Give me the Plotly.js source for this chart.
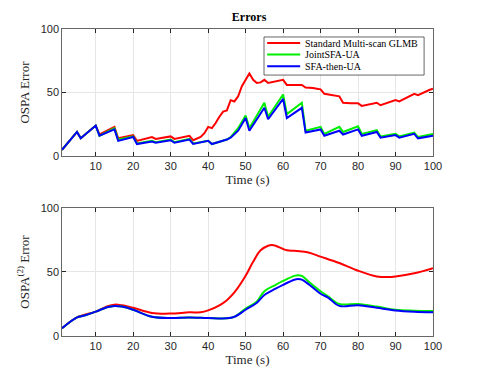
<!DOCTYPE html>
<html>
<head>
<meta charset="utf-8">
<script src="https://cdn.plot.ly/plotly-3.0.1.min.js"></script>
<style>body{margin:0;background:#fff}#plot{width:479px;height:379px}</style>
</head>
<body>
<div id="plot"></div>
<script>
// top panel: OSPA error (vertices)
const tRedTop = [1,5,6,10,11,15,16,20,21,25,26,30,31,35,36,37,38,39,40,41,42,43,44,45,46,47,48,49,50,
  51,52,53,54,55,56,57,58,59,60,61,62,63,64,65,66,67,68,69,70,71,72,73,74,75,76,77,78,79,80,
  81,82,83,84,85,86,87,88,89,90,91,92,93,94,95,96,97,98,99,100];
const redTop = [5,19,14,24,17,23,14,16.5,12,15,13.5,15.5,13.5,16,12.5,13.5,15,18,23,22,26,31,35,36,44,43,47,55,60,
  65,60,57.5,58,60,57.5,58,59,59.5,60,56,56,56,56,56,54,54,53.5,53,52.5,49,48.5,48,47.5,47,42,41.5,41.5,41.5,41.5,
  39.5,40,40.5,41,42,40,41,42,43,44,43,44.5,46,47.5,49,48,49.5,50.5,52,53];
const tTop = [1,5,6,10,11,15,16,20,21,25,26,30,31,35,36,40,41,45,46,48,50,51,55,56,60,61,65,66,70,71,75,76,80,81,85,86,90,91,95,96,100];
const greenTop = [5,19,14,24,16,22,13,15.5,10,12,11,13,11,13.5,10,12,9.5,13,15,22,32,22,42,31,48.5,33,42,20,23,17.5,23,19,23.5,17.5,20.5,15.5,17.5,15.5,18.5,15,17.5];
const blueTop  = [5,19,14,24,16,21,12,15,9.5,11.5,10.5,12.5,10.5,13,9.5,12,9.5,13,14.5,20,30,20,38,29,45,30,38,18.5,21,16,20,17,21,16,19,14.5,16.5,14.5,17.5,14,16];

// bottom panel: OSPA(2) error
const tRedBot = [1,5,10,13,15,17,20,25,30,35,38,40,43,45,47,50,52,54,56,57,58,60,61,63,65,67,70,75,80,85,88,90,95,100];
const redBot  = [6,14.5,19,23,24.5,24,22,18,17.5,18.5,18.5,20,24,28,34,47,58,67,70.5,71,70.5,68,67,66.5,66,65,62,57,51,46.5,46,46.5,49,53];
const tBot = [1,5,7,10,13,15,17,20,25,30,35,40,45,47,50,53,55,58,60,63,64,65,67,70,72,75,80,85,90,95,100];
const greenBot = [6,14.5,16,19,22.5,23.5,23,20.5,15,14,14.5,14,13.8,15,21.5,27,35,40,43,47,47.5,47,42,35,31,25,25,23,20.5,19.8,19.5];
const blueBot  = [6,14.5,16,19,22.5,23.5,23,20.5,15,14,14.5,14,13.8,15,20.5,26,32,37,40,44,44.5,44,40,33,30,23.5,24,22,20,19,18.5];

const names = ['Standard Multi-scan GLMB', 'JointSFA-UA', 'SFA-then-UA'];
const colors = ['#ff0000', '#00ee00', '#0000ff'];

const traces = [
  {x: tRedTop, y: redTop, line: {color: colors[0], width: 2}},
  {x: tTop, y: greenTop, line: {color: colors[1], width: 2}},
  {x: tTop, y: blueTop, line: {color: colors[2], width: 2}},
  {x: tRedBot, y: redBot, xaxis: 'x2', yaxis: 'y2', line: {color: colors[0], width: 2, shape: 'spline'}},
  {x: tBot, y: greenBot, xaxis: 'x2', yaxis: 'y2', line: {color: colors[1], width: 2, shape: 'spline'}},
  {x: tBot, y: blueBot, xaxis: 'x2', yaxis: 'y2', line: {color: colors[2], width: 2, shape: 'spline'}}
].map(t => Object.assign({mode: 'lines', type: 'scatter', showlegend: false, hoverinfo: 'skip'}, t));

const serif = 'Liberation Serif, Times New Roman, serif';
const tickFont = {family: 'Liberation Sans, Arial, sans-serif', size: 11, color: '#262626'};
const xax = d => ({
  range: [1, 100], tickvals: [10,20,30,40,50,60,70,80,90,100],
  showgrid: true, gridcolor: '#e6e6e6', zeroline: false,
  showline: true, linecolor: '#262626', linewidth: 0.7, mirror: 'ticks',
  ticks: 'inside', ticklen: 4, tickcolor: '#262626', tickfont: tickFont,
  title: {text: 'Time (s)', font: {family: serif, size: 13, color: '#262626'}, standoff: 2},
  anchor: d
});
const yax = (d, label) => ({
  domain: d, range: [0, 100], tickvals: [0, 50, 100],
  showgrid: true, gridcolor: '#e6e6e6', zeroline: false,
  showline: true, linecolor: '#262626', linewidth: 0.7, mirror: 'ticks',
  ticks: 'inside', ticklen: 4, tickcolor: '#262626', tickfont: tickFont,
  title: {text: label, font: {family: serif, size: 13, color: '#262626'}, standoff: 8}
});

// compact MATLAB-style legend box in the top panel
const legRows = [0.954, 0.917, 0.879];
const shapes = [{type: 'rect', xref: 'paper', yref: 'paper', x0: 0.5445, x1: 0.976, y0: 0.850, y1: 0.974,
  fillcolor: '#fff', line: {color: '#262626', width: 0.7}, layer: 'above'}];
const annotations = [];
names.forEach((n, i) => {
  shapes.push({type: 'line', xref: 'paper', yref: 'paper', x0: 0.553, x1: 0.642, y0: legRows[i], y1: legRows[i],
    line: {color: colors[i], width: 2}, layer: 'above'});
  annotations.push({text: n, xref: 'paper', yref: 'paper', x: 0.650, y: legRows[i], xanchor: 'left', yanchor: 'middle',
    showarrow: false, font: {family: serif, size: 10, color: '#000'}});
});

const layout = {
  width: 479, height: 379,
  margin: {l: 62, r: 46, t: 29, b: 43},
  paper_bgcolor: '#fff', plot_bgcolor: '#fff',
  title: {text: '<b>Errors</b>', font: {family: serif, size: 12, color: '#000'}, x: 0.52, xanchor: 'center', y: 0.955, yanchor: 'middle'},
  xaxis: xax('y'),
  yaxis: yax([0.586, 1], 'OSPA Error'),
  xaxis2: xax('y2'),
  yaxis2: yax([0, 0.417], 'OSPA<sup>(2)</sup> Error'),
  shapes: shapes,
  annotations: annotations,
  showlegend: false
};

Plotly.newPlot('plot', traces, layout, {displayModeBar: false, staticPlot: true});
</script>
</body>
</html>
